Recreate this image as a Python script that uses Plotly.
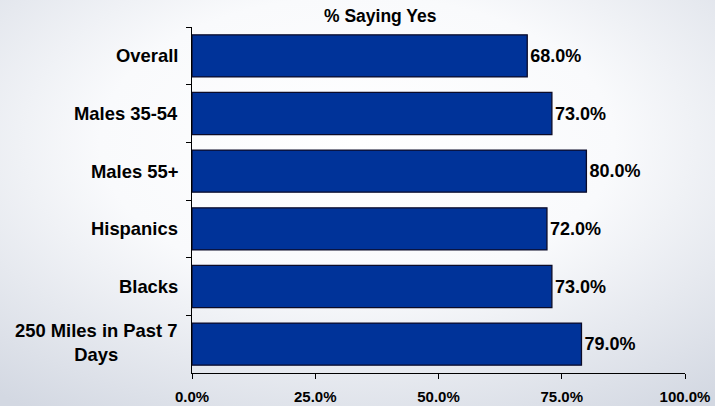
import base64
import plotly.graph_objects as go

# Survey results: share of each group answering "yes"
categories = ["Overall", "Males 35-54", "Males 55+", "Hispanics", "Blacks",
              "250 Miles in Past 7<br>Days"]
pct_yes = [68.0, 73.0, 80.0, 72.0, 73.0, 79.0]
x_ticks = [0, 25, 50, 75, 100]
x_tick_labels = ["0.0%", "25.0%", "50.0%", "75.0%", "100.0%"]
title_text = "% Saying Yes"

W, H = 715, 406
L, R, T, B = 192, 30, 27, 33
plot_w = W - L - R
plot_h = H - T - B

FONT = "Liberation Sans, Arial, sans-serif"

# soft radial backdrop, drawn as an SVG image stretched over the whole page
svg = f"""<svg xmlns="http://www.w3.org/2000/svg" width="{W}" height="{H}" viewBox="0 0 {W} {H}" preserveAspectRatio="none">
<defs><radialGradient id="g" cx="50%" cy="35%" r="80%">
<stop offset="0" stop-color="#ffffff"/>
<stop offset="0.45" stop-color="#f9fafc"/>
<stop offset="1" stop-color="#d3d8e2"/>
</radialGradient></defs>
<rect width="{W}" height="{H}" fill="url(#g)"/></svg>"""
bg_src = "data:image/svg+xml;base64," + base64.b64encode(svg.encode()).decode()

fig = go.Figure()
fig.add_trace(go.Bar(
    x=pct_yes,
    y=categories,
    orientation="h",
    marker=dict(color="#003399", line=dict(color="#0b0b28", width=1.3)),
    texttemplate="<b>%{x:.1f}%</b>",
    textposition="outside",
    textfont=dict(family=FONT, size=18, color="#000000"),
    cliponaxis=False,
    hoverinfo="skip",
))

annotations = [dict(
    text=f"<b>{title_text}</b>",
    xref="paper", yref="paper",
    x=(380 - L) / plot_w, y=1 + (T - 16) / plot_h,
    xanchor="center", yanchor="middle",
    showarrow=False,
    font=dict(family=FONT, size=17.5, color="#000000"),
)]
# category labels, centred line-by-line and right-aligned to the axis
for cat in categories:
    annotations.append(dict(
        text=f"<b>{cat}</b>",
        xref="paper", yref="y",
        x=0, y=cat,
        xanchor="right", yanchor="middle",
        xshift=-12, yshift=2 if "<br>" in cat else 0, align="center",
        showarrow=False,
        font=dict(family=FONT, size=18.4, color="#000000"),
    ))

fig.update_layout(
    width=W, height=H,
    margin=dict(l=L, r=R, t=T, b=B, pad=0, autoexpand=False),
    paper_bgcolor="#f4f5f8",
    plot_bgcolor="rgba(0,0,0,0)",
    bargap=0.27,
    showlegend=False,
    annotations=annotations,
    images=[dict(
        source=bg_src,
        xref="paper", yref="paper",
        x=-L / plot_w, y=1 + T / plot_h,
        sizex=W / plot_w, sizey=H / plot_h,
        xanchor="left", yanchor="top",
        sizing="stretch", layer="below",
    )],
    xaxis=dict(
        range=[0, 100],
        tickvals=x_ticks,
        ticktext=[f"<b>{t}</b>" for t in x_tick_labels],
        ticks="outside", ticklen=5, tickwidth=1, tickcolor="#000000",
        ticklabelstandoff=5,
        showline=True, linecolor="#000000", linewidth=1,
        showgrid=False, zeroline=False, automargin=False,
        tickfont=dict(family=FONT, size=15, color="#000000"),
        fixedrange=True,
    ),
    yaxis=dict(
        autorange="reversed",
        tickson="boundaries",
        ticks="outside", ticklen=5, tickwidth=1, tickcolor="#000000",
        showticklabels=False,
        showline=True, linecolor="#000000", linewidth=1,
        showgrid=False, zeroline=False, automargin=False,
        fixedrange=True,
    ),
)

fig.write_html("out.html")
